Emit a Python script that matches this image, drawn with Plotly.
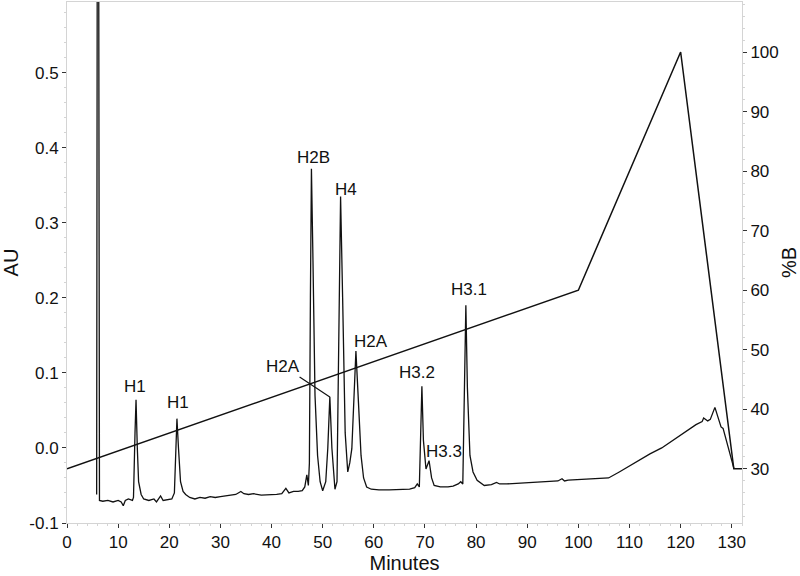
import plotly.graph_objects as go

# chromatogram (AU, left axis)
minutes = [5.8, 5.95, 6.15, 6.35, 7, 8, 9, 10, 10.6, 11, 11.4, 12, 12.8,
           13.0, 13.3, 13.5, 13.75, 14.0, 14.5, 15, 16, 17, 17.5, 18.3, 18.8, 19.5, 20.5, 21.0,
           21.2, 21.5, 21.8, 22.2, 22.7, 23.2, 24, 25, 26, 27, 28, 29, 30, 31, 32, 33, 34,
           34.6, 35.5, 36.5, 38, 39.5, 41, 42, 42.8, 43.4, 44.3, 45.2, 46.0, 46.5, 46.9,
           47.2, 47.4, 47.6, 47.8, 48.1, 48.5, 49.0, 49.5, 50.0, 50.6, 51.0, 51.4, 51.8,
           52.4, 52.8, 53.1, 53.5, 53.9, 54.4, 54.9, 55.3, 55.7, 56.0, 56.5, 57.0, 57.5,
           58.0, 58.6, 59.5, 61, 63, 65, 67, 68, 68.5, 68.9, 69.1, 69.4, 69.7, 70.2, 70.8,
           71.3, 71.8, 73, 74.5, 75.5, 76.5, 77.0, 77.4, 77.7, 78.0, 78.3, 78.8, 79.4, 80.2,
           81.6, 83, 84, 84.6, 86, 88, 90, 92, 94, 96, 96.8, 97.3, 98, 100, 102, 104, 105.9,
           108, 110, 112, 114, 116.3, 118, 120, 121.6, 123, 124.2, 124.5, 125.3, 125.8,
           126.7, 127.5, 127.9, 128.3, 130.4]
au = [-0.062, 0.9, 0.9, -0.070, -0.071, -0.070, -0.072, -0.070, -0.072, -0.077, -0.070, -0.068, -0.070,
      -0.066, 0.02, 0.064, 0.0, -0.045, -0.062, -0.068, -0.070, -0.068, -0.072, -0.064, -0.070, -0.069, -0.068, -0.060,
      -0.02, 0.039, 0.0, -0.045, -0.058, -0.062, -0.066, -0.068, -0.066, -0.067, -0.065, -0.066, -0.065, -0.064, -0.064, -0.062, -0.058,
      -0.061, -0.062, -0.061, -0.063, -0.063, -0.062, -0.061, -0.054, -0.060, -0.058, -0.058, -0.057, -0.052, -0.036,
      -0.050, -0.020, 0.20, 0.372, 0.25, 0.07, -0.01, -0.045, -0.057, -0.045, 0.0, 0.068, 0.0,
      -0.055, -0.045, 0.10, 0.335, 0.20, 0.02, -0.032, -0.020, -0.001, 0.05, 0.129, 0.06, -0.01,
      -0.040, -0.052, -0.055, -0.056, -0.056, -0.055, -0.055, -0.053, -0.048, -0.052, 0.0, 0.082, 0.01, -0.028, -0.017,
      -0.040, -0.050, -0.052, -0.052, -0.051, -0.048, -0.045, -0.048, 0.05, 0.190, 0.08, -0.01, -0.032, -0.043,
      -0.050, -0.049, -0.046, -0.048, -0.048, -0.047, -0.046, -0.046, -0.045, -0.044, -0.041, -0.044, -0.043, -0.042, -0.041, -0.041, -0.040,
      -0.032, -0.024, -0.016, -0.008, 0.0, 0.008, 0.017, 0.025, 0.031, 0.035, 0.040, 0.036, 0.038,
      0.054, 0.035, 0.028, 0.026, -0.027]

# gradient (%B, right axis)
grad_min = [0, 100, 120, 130.4, 132]
grad_b = [30, 60, 100, 30, 30]

# peak labels
peak_names = ["H1", "H1", "H2B", "H4", "H2A", "H3.2", "H3.3", "H3.1"]
peak_x = [13.3, 21.8, 48.2, 54.5, 59.4, 68.4, 73.7, 78.6]
peak_y = [0.082, 0.060, 0.387, 0.344, 0.142, 0.101, -0.005, 0.211]

FONT = "Liberation Sans, Arial, sans-serif"
GRID = "#d4d4d4"

fig = go.Figure()
fig.add_trace(go.Scatter(x=minutes, y=au, mode="lines",
                         line=dict(color="#111111", width=1.3), showlegend=False))
fig.add_trace(go.Scatter(x=grad_min, y=grad_b, mode="lines", yaxis="y2",
                         line=dict(color="#111111", width=1.5), showlegend=False))

for name, px_, py_ in zip(peak_names, peak_x, peak_y):
    fig.add_annotation(x=px_, y=py_, text=name, showarrow=False,
                       font=dict(size=17, color="#111111", family=FONT))

# H2A label with leader line to the small peak
fig.add_annotation(x=51.4, y=0.068, ax=42.2, ay=0.109, axref="x", ayref="y",
                   text="H2A", showarrow=True, arrowhead=0, arrowwidth=1.2,
                   arrowcolor="#111111",
                   font=dict(size=17, color="#111111", family=FONT))

fig.update_layout(
    width=800, height=576,
    margin=dict(l=67, r=58, t=2, b=53),
    plot_bgcolor="white", paper_bgcolor="white",
    font=dict(family=FONT, size=17, color="#111111"),
    xaxis=dict(range=[0, 132], tickvals=list(range(0, 131, 10)), automargin=False,
               showline=True, linecolor=GRID, mirror=True, showgrid=False, zeroline=False,
               ticks="outside", ticklen=4, tickcolor="#333333",
               minor=dict(dtick=2, ticks="outside", ticklen=2, tickcolor=GRID),
               title=dict(text="Minutes", standoff=2)),
    yaxis=dict(range=[-0.1, 0.594], automargin=False,
               tickvals=[-0.1, 0.0, 0.1, 0.2, 0.3, 0.4, 0.5],
               ticktext=["-0.1", "0.0", "0.1", "0.2", "0.3", "0.4", "0.5"],
               showline=True, linecolor=GRID, showgrid=False, zeroline=False,
               ticks="outside", ticklen=4, tickcolor="#333333",
               minor=dict(dtick=0.02, ticks="outside", ticklen=2, tickcolor=GRID),
               title=dict(text="AU", standoff=8)),
    yaxis2=dict(range=[20.9, 108.4], overlaying="y", side="right", automargin=False,
                tickvals=list(range(30, 101, 10)),
                showline=True, linecolor=GRID, showgrid=False, zeroline=False,
                ticks="outside", ticklen=4, tickcolor="#333333",
                minor=dict(dtick=2, ticks="outside", ticklen=2, tickcolor=GRID),
                title=dict(text="%B", standoff=6)),
)

# drop the browser's default 8px body margin so the figure sits at the page corner
fig.write_html("out.html", config={"displayModeBar": False},
               post_script="document.body.style.margin='0';")
